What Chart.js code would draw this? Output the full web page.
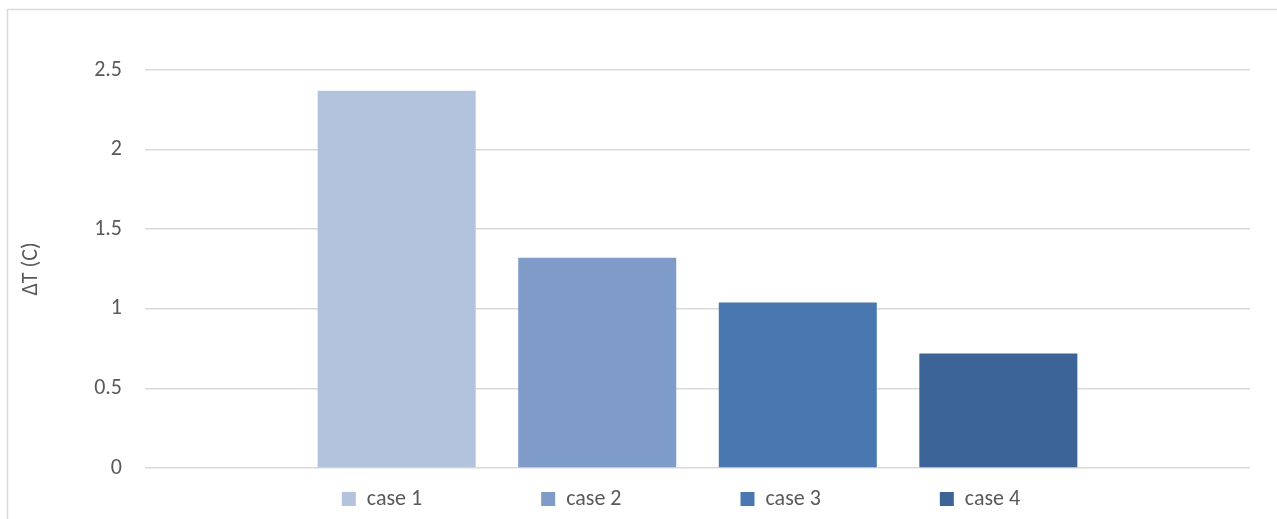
<!DOCTYPE html>
<html>
<head>
<meta charset="utf-8">
<script src="https://cdn.jsdelivr.net/npm/chart.js@4"></script>
<style>
html, body { margin: 0; padding: 0; background: #fff; overflow: hidden; }
#wrap { width: 1277px; height: 519px; }
</style>
</head>
<body>
<div id="wrap"><canvas id="deltaChart"></canvas></div>
<script>
// chart values
const seriesNames = ["case 1", "case 2", "case 3", "case 4"];
const deltaT = [2.37, 1.32, 1.04, 0.72];
const barColors = ["#B4C3DD", "#7F9CC8", "#4878AF", "#3C6496"];
const yTicks = [0, 0.5, 1, 1.5, 2, 2.5];

const textColor = "#595959";
const gridColor = "#D9D9D9";
const fontFamily = "Carlito, Calibri, Lato, sans-serif";

// excel-ish outer frame
const framePlugin = {
  id: "frame",
  beforeDraw(chart) {
    const c = chart.ctx;
    c.save();
    c.strokeStyle = gridColor;
    c.lineWidth = 1.5;
    c.strokeRect(7.5, 9.5, chart.width + 20, chart.height + 20);
    c.restore();
  }
};

// nudge legend to sit where excel puts it
const legendPlace = {
  id: "legendPlace",
  afterLayout(chart) {
    const lg = chart.legend;
    const pad = lg.options.labels.padding;
    lg.left += 56;
    lg.right += 56;
    lg.top = chart.chartArea.bottom + 20 - pad;
  }
};

document.addEventListener("DOMContentLoaded", function () {

const ctx = document.getElementById("deltaChart").getContext("2d");

new Chart(ctx, {
  type: "bar",
  data: {
    labels: [""],
    datasets: seriesNames.map(function (name, i) {
      return {
        label: name,
        data: [deltaT[i]],
        backgroundColor: barColors[i],
        borderWidth: 0,
        categoryPercentage: 0.726,
        barPercentage: 0.788
      };
    })
  },
  options: {
    responsive: true,
    maintainAspectRatio: false,
    animation: false,
    layout: {
      padding: { top: 70, right: 27, bottom: 0, left: 0 }
    },
    plugins: {
      legend: {
        position: "bottom",
        maxHeight: 51,
        labels: {
          color: textColor,
          boxWidth: 14,
          boxHeight: 14,
          padding: 119,
          font: { family: fontFamily, size: 22 }
        }
      },
      tooltip: { enabled: false }
    },
    scales: {
      x: {
        display: false
      },
      y: {
        min: 0,
        max: 2.5,
        afterFit: function (axis) { axis.width = 145; },
        afterBuildTicks: function (axis) {
          axis.ticks = yTicks.map(function (v) { return { value: v }; });
        },
        border: { display: false },
        grid: {
          color: gridColor,
          lineWidth: 1.5,
          drawTicks: false
        },
        ticks: {
          color: textColor,
          padding: 23,
          font: { family: fontFamily, size: 22 },
          callback: function (v) { return String(v); }
        },
        title: {
          display: true,
          text: "ΔT (C)",
          color: textColor,
          padding: { top: 18, bottom: 0 },
          font: { family: fontFamily, size: 22 }
        }
      }
    }
  },
  plugins: [framePlugin, legendPlace]
});

});
</script>
</body>
</html>
